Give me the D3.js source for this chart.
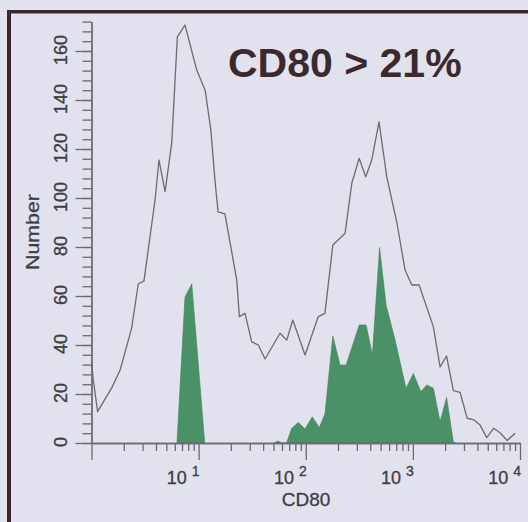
<!DOCTYPE html>
<html>
<head>
<meta charset="utf-8">
<script src="https://cdn.jsdelivr.net/npm/d3@7/dist/d3.min.js"></script>
<style>
  html, body { margin: 0; padding: 0; background: #e2e2ef; }
  svg { display: block; }
  text { font-family: "Liberation Sans", Arial, sans-serif; }
</style>
</head>
<body>
<svg id="chart" width="528" height="522"></svg>
<script>
// Total population histogram (outline): CD80 intensity and event count
const totalCD80 = [1.0, 1.04, 1.14, 1.54, 1.85, 2.37, 2.73, 3.09, 3.92, 4.27, 4.86, 5.61, 6.33, 7.46,
  9.6, 11.5, 13.0, 14.2, 15.2, 17.6, 22.7, 24.0, 27.1, 31.3, 36.1, 41.7, 57.5, 66.5, 75.7, 98.5,
  131, 151, 179, 233, 269, 315, 363, 413, 483, 570, 707, 846, 977, 1143, 1553, 1794, 2063, 2389,
  2760, 3209, 3726, 4240, 4894, 5673, 6521, 7583, 8995];
const totalCount = [33.2, 25.7, 12.8, 22.4, 29.8, 46.9, 64.9, 66.2, 99.2, 115.5, 102.6, 122.4, 165.8, 170.6,
  152.2, 144, 127.8, 107.3, 94.3, 93.5, 66.5, 51.6, 52.9, 41.3, 40, 34.3, 44.8, 42, 50.2, 35.9,
  51.6, 52.9, 80.8, 85.6, 106, 116.2, 108.7, 115.5, 131.1, 108.7, 90.2, 70.6, 64.5, 64.5, 47.5, 31.1, 35.5, 21.4,
  20.7, 10.1, 9.4, 7.3, 2.2, 6, 4.2, 1, 4];

// Control staining peak (filled)
const controlCD80 = [6.28, 7.46, 8.63, 11.4];
const controlCount = [0, 59.6, 64.9, 0];

// CD80-positive events (filled)
const positiveCD80 = [50.6, 55.1, 60, 66.2, 74.0, 85.3, 98.5, 115, 134, 151, 179, 209, 238, 316, 366, 419,
  489, 562, 682, 863, 1011, 1186, 1349, 1554, 1795, 2065, 2389, 2530];
const positiveCount = [0, 0.8, 0, 0, 6, 8.4, 5.7, 10.7, 6.3, 11.8, 43.7, 31.8, 31.8, 48.2, 48.2, 35.9,
  79.8, 56.3, 42, 22.3, 28.4, 20.9, 23.7, 22.3, 8.7, 18.6, 0.2, 0];

// Axis ticks
const yMajorTicks = [0, 20, 40, 60, 80, 100, 120, 140, 160];
const yMinorTicks = d3.range(0, 173, 4);
const xMajorTicks = [1, 10, 100, 1000, 10000];
const xMinorTicks = [1, 10, 100, 1000].flatMap(b => [2, 3, 4, 5, 6, 7, 8, 9].map(m => b * m));
const xTickExponents = ["1", "2", "3", "4"];

const svg = d3.select("#chart");

// Page frame
svg.append("rect").attr("x", 7).attr("y", 10).attr("width", 4).attr("height", 512).attr("fill", "#3b2629");
svg.append("rect").attr("x", 7).attr("y", 10).attr("width", 521).attr("height", 3.5).attr("fill", "#3b2a2d");

const x = d3.scaleLog().domain([1, 10000]).range([91.5, 520]);
const y = d3.scaleLinear().domain([0, 172]).range([443, 443 - 172 * 2.45]);

const toPts = (xs, ys) => xs.map((v, i) => [v, ys[i]]);

const area = d3.area()
  .x(d => x(d[0]))
  .y0(y(0))
  .y1(d => y(d[1]));

const line = d3.line()
  .x(d => x(d[0]))
  .y(d => y(d[1]));

const green = "#4b9168";

svg.append("path")
  .datum(toPts(controlCD80, controlCount))
  .attr("d", area)
  .attr("fill", green)
  .attr("stroke", "#3f7f59")
  .attr("stroke-width", 0.6);

svg.append("path")
  .datum(toPts(positiveCD80, positiveCount))
  .attr("d", area)
  .attr("fill", green)
  .attr("stroke", "#3f7f59")
  .attr("stroke-width", 0.6);

svg.append("path")
  .datum(toPts(totalCD80, totalCount))
  .attr("d", line)
  .attr("fill", "none")
  .attr("stroke", "#6b6b72")
  .attr("stroke-width", 1.3)
  .attr("stroke-linejoin", "round");

const axisColor = "#6a6a70";
function styleAxis(g) {
  g.selectAll("path, line").attr("stroke", axisColor).attr("stroke-width", 1.3);
  g.selectAll("text").remove();
}

// Y axis: minor and major ticks
svg.append("g").attr("transform", `translate(${x(1)},0)`)
  .call(d3.axisLeft(y).tickValues(yMinorTicks).tickSize(9).tickSizeOuter(0))
  .call(styleAxis);
svg.append("g").attr("transform", `translate(${x(1)},0)`)
  .call(d3.axisLeft(y).tickValues(yMajorTicks).tickSize(16).tickSizeOuter(0))
  .call(styleAxis);

// X axis: minor and major ticks
svg.append("g").attr("transform", `translate(0,${y(0)})`)
  .call(d3.axisBottom(x).tickValues(xMinorTicks).tickSize(8).tickSizeOuter(0))
  .call(styleAxis);
svg.append("g").attr("transform", `translate(0,${y(0)})`)
  .call(d3.axisBottom(x).tickValues(xMajorTicks).tickSize(17).tickSizeOuter(0))
  .call(styleAxis);

const labelColor = "#3e3e44";

// Y tick labels, rotated
svg.append("g").selectAll("text")
  .data(yMajorTicks)
  .join("text")
  .attr("transform", d => `translate(61,${y(d) - 1}) rotate(-90)`)
  .attr("text-anchor", "middle")
  .attr("dominant-baseline", "central")
  .attr("font-size", 18)
  .attr("fill", labelColor)
  .attr("stroke", labelColor)
  .attr("stroke-width", 0.35)
  .text(d => d);

// X tick labels: powers of ten
const xl = svg.append("g").selectAll("text")
  .data(xMajorTicks.slice(1))
  .join("text")
  .attr("x", d => x(d) + 1)
  .attr("y", 484)
  .attr("text-anchor", "end")
  .attr("font-size", 18)
  .attr("fill", labelColor)
  .attr("stroke", labelColor)
  .attr("stroke-width", 0.3);
xl.append("tspan").text("10");
xl.append("tspan").attr("dx", 5).attr("dy", -8).attr("font-size", 14).text((d, i) => xTickExponents[i]);

// Axis titles
svg.append("text")
  .attr("x", 306).attr("y", 506)
  .attr("text-anchor", "middle")
  .attr("font-size", 19)
  .attr("fill", labelColor)
  .attr("stroke", labelColor)
  .attr("stroke-width", 0.3)
  .text("CD80");

svg.append("text")
  .attr("transform", "translate(33,232) rotate(-90)")
  .attr("text-anchor", "middle")
  .attr("dominant-baseline", "central")
  .attr("font-size", 18)
  .attr("textLength", 76)
  .attr("lengthAdjust", "spacingAndGlyphs")
  .attr("fill", labelColor)
  .attr("stroke", labelColor)
  .attr("stroke-width", 0.3)
  .text("Number");

// Gate annotation
svg.append("text")
  .attr("x", 228).attr("y", 77)
  .attr("font-size", 41)
  .attr("font-weight", "bold")
  .attr("fill", "#3b2a2d")
  .text("CD80 > 21%");
</script>
</body>
</html>
